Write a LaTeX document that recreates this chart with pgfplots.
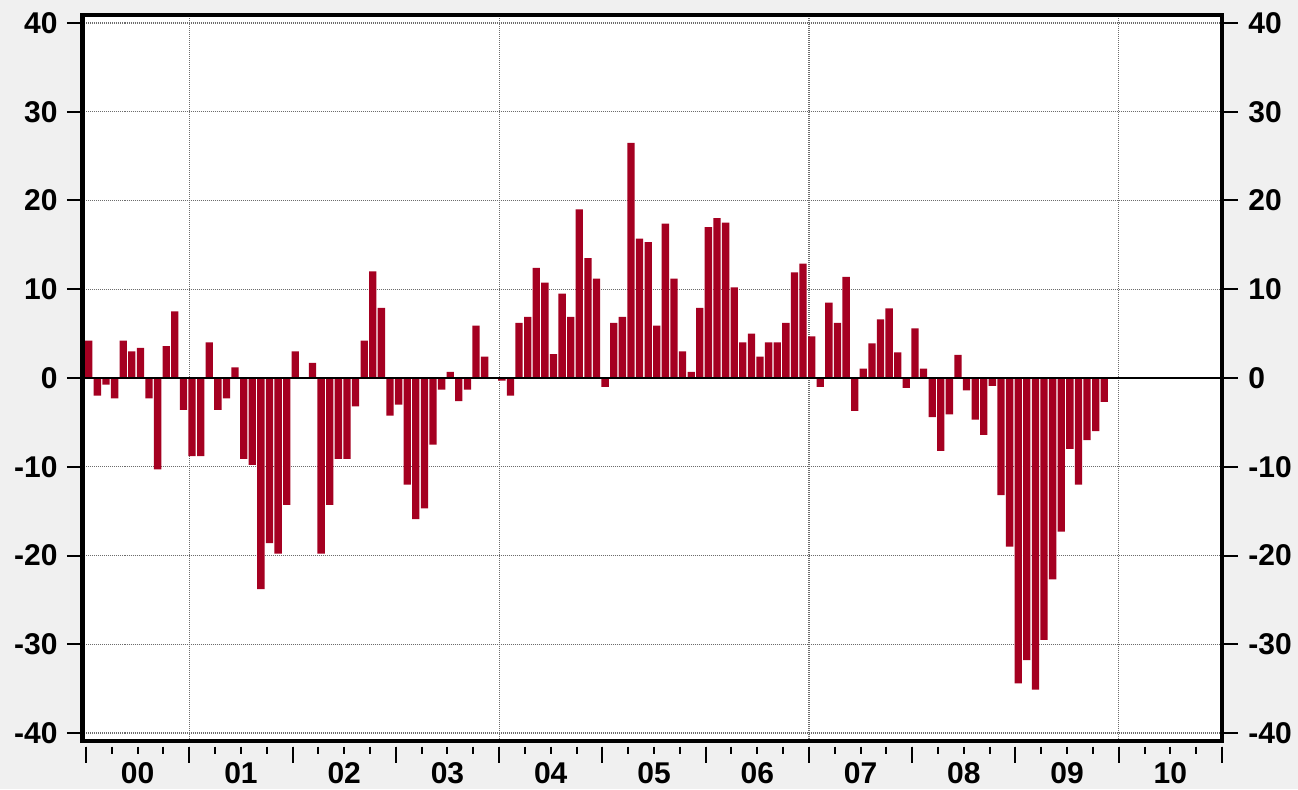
\documentclass[border=0pt]{standalone}
\usepackage{pgfplots}
\usepackage{pgfplotstable}
\pgfplotsset{compat=1.18}
\usepackage{fontspec}
\setmainfont{Liberation Sans}
\definecolor{barred}{HTML}{A50021}
\definecolor{bggray}{HTML}{F0F0F0}

% monthly change, Jan 2000 .. Nov 2009 (x = month index + 0.5)
\pgfplotstableread{
m v
0.5 4.2
1.5 -2.0
2.5 -0.75
3.5 -2.3
4.5 4.2
5.5 3.0
6.5 3.4
7.5 -2.3
8.5 -10.3
9.5 3.6
10.5 7.5
11.5 -3.6
12.5 -8.8
13.5 -8.8
14.5 4.0
15.5 -3.6
16.5 -2.3
17.5 1.2
18.5 -9.1
19.5 -9.8
20.5 -23.8
21.5 -18.6
22.5 -19.8
23.5 -14.3
24.5 3.0
25.5 0
26.5 1.7
27.5 -19.8
28.5 -14.3
29.5 -9.1
30.5 -9.1
31.5 -3.2
32.5 4.2
33.5 12.0
34.5 7.9
35.5 -4.25
36.5 -3.0
37.5 -12.0
38.5 -15.9
39.5 -14.7
40.5 -7.5
41.5 -1.3
42.5 0.7
43.5 -2.6
44.5 -1.3
45.5 5.9
46.5 2.4
47.5 0
48.5 -0.3
49.5 -2.0
50.5 6.2
51.5 6.9
52.5 12.4
53.5 10.75
54.5 2.7
55.5 9.5
56.5 6.9
57.5 19.0
58.5 13.5
59.5 11.2
60.5 -1.0
61.5 6.2
62.5 6.9
63.5 26.5
64.5 15.7
65.5 15.3
66.5 5.9
67.5 17.4
68.5 11.2
69.5 3.0
70.5 0.7
71.5 7.9
72.5 17.0
73.5 18.0
74.5 17.5
75.5 10.2
76.5 4.0
77.5 5.0
78.5 2.4
79.5 4.0
80.5 4.0
81.5 6.2
82.5 11.9
83.5 12.9
84.5 4.7
85.5 -1.0
86.5 8.5
87.5 6.2
88.5 11.4
89.5 -3.7
90.5 1.05
91.5 3.9
92.5 6.6
93.5 7.85
94.5 2.9
95.5 -1.1
96.5 5.6
97.5 1.05
98.5 -4.4
99.5 -8.2
100.5 -4.1
101.5 2.6
102.5 -1.4
103.5 -4.7
104.5 -6.4
105.5 -0.9
106.5 -13.2
107.5 -19.0
108.5 -34.4
109.5 -31.8
110.5 -35.1
111.5 -29.5
112.5 -22.7
113.5 -17.3
114.5 -8.0
115.5 -12.0
116.5 -7.0
117.5 -6.0
118.5 -2.7
}\changes

\pgfplotsset{base/.style={
  at={(0,0)}, anchor=south west,
  scale only axis, width=569.75pt, height=363pt,
  xmin=-0.41, xmax=132, ymin=-40.9, ymax=40.9,
  ytick={-40,-30,...,40},
  tick align=outside, major tick length=7.75pt,
  ytick style={black, line width=1pt},
  axis line style={line width=2.2pt, black},
  ticklabel style={font=\fontsize{15}{18}\selectfont\bfseries},
  /pgf/number format/assume math mode=true,
}}

\begin{document}
\begin{tikzpicture}
\fill[bggray] (-41.25pt,-24pt) rectangle (607.75pt,370.5pt);
\useasboundingbox (-41.25pt,-24pt) rectangle (607.75pt,370.5pt);

\begin{axis}[base,
  axis background/.style={fill=white},
  clip=false,
  ytick pos=left, yticklabel pos=left,
  yticklabel style={anchor=east, inner sep=0pt, xshift=-4.5pt},
  xtick={12,48,84,120}, xticklabels={},
  xtick style={draw=none},
  xmajorgrids, ymajorgrids,
  grid style={gray!85!black, line width=0.6pt, dash pattern=on 0.5pt off 0.5pt},
  extra x ticks={6,18,...,126},
  extra x tick labels={00,01,02,03,04,05,06,07,08,09,10},
  extra x tick style={grid=none, major tick length=0pt,
    xticklabel style={anchor=base, yshift=-21.25pt}},
]
\addplot[ybar, bar width=0.85, bar shift=-0.18, fill=barred, draw=none] table[x=m, y=v] {\changes};
\addplot[black, line width=1pt, forget plot] coordinates {(-0.41,0) (132,0)};
\pgfplotsinvokeforeach{0,3,...,132}{
  \draw[black, line width=1pt] ([yshift=-2.85pt]axis cs:#1,-40.9) -- ([yshift=-6.65pt]axis cs:#1,-40.9);
}
\pgfplotsinvokeforeach{0,12,...,132}{
  \draw[black, line width=1pt] ([yshift=-2.85pt]axis cs:#1,-40.9) -- ([yshift=-10.85pt]axis cs:#1,-40.9);
}
\end{axis}

\begin{axis}[base,
  xtick=\empty,
  ytick pos=right, yticklabel pos=right,
  yticklabel style={anchor=west, inner sep=0pt, xshift=5.25pt},
]
\end{axis}
\end{tikzpicture}
\end{document}
